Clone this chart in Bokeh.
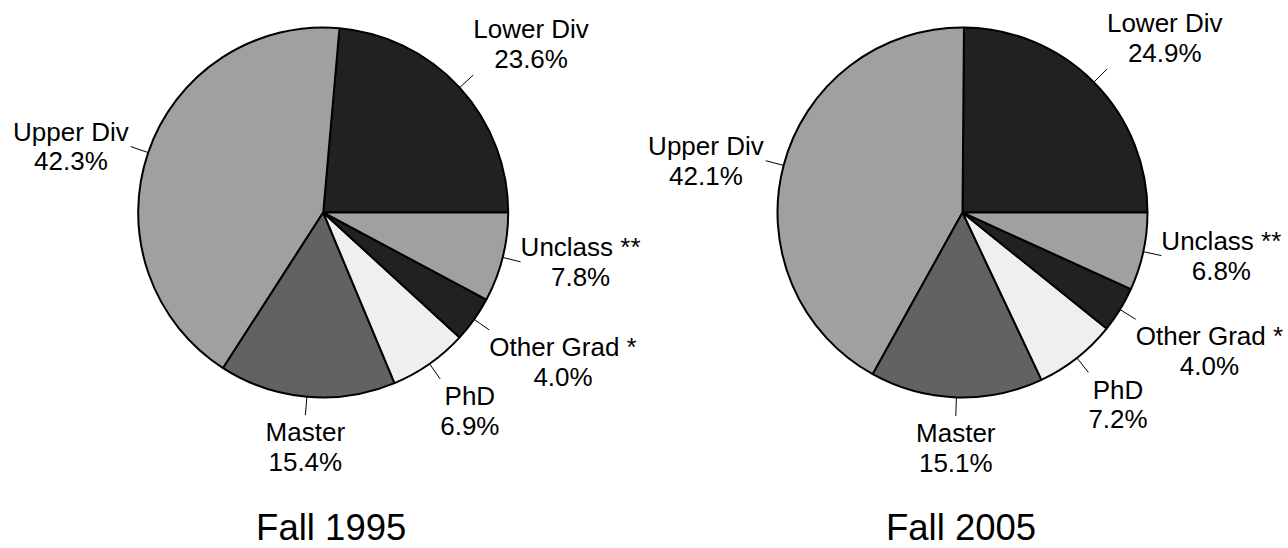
import math
from bokeh.plotting import figure
from bokeh.models import Range1d, ColumnDataSource
from bokeh.embed import file_html
from bokeh.resources import INLINE
from bokeh.core.properties import value

# ---- data ----
categories = ["Lower Div", "Upper Div", "Master", "PhD", "Other Grad *", "Unclass **"]
fall_1995 = [23.6, 42.3, 15.4, 6.9, 4.0, 7.8]
fall_2005 = [24.9, 42.1, 15.1, 7.2, 4.0, 6.8]
titles = ["Fall 1995", "Fall 2005"]
colors = ["#212121", "#a0a0a0", "#626262", "#efefef", "#212121", "#a0a0a0"]

# ---- layout (pixels) ----
W, H = 1288, 548
pie_centers_screen = [(322.7, 212.0), (962.0, 212.0)]
title_centers_x = [330.7, 960.5]
TITLE_BASELINE = 540.0
R = 185.0
FONT = "Liberation Sans"
FS = 26.0
LS = 29.4
CAP = 0.716 * FS
TITLE_FS = 36.5
BASE_FIX = 0.35  # empirical baseline correction (em)

# Arial / Liberation Sans advance widths (per 1000 em)
AW = {" ": 278, "*": 389, "%": 889, ".": 278, "D": 722, "G": 778, "L": 556,
      "M": 833, "O": 778, "P": 667, "U": 722, "a": 556, "c": 500, "d": 556,
      "e": 556, "h": 556, "i": 222, "l": 222, "n": 556, "o": 556, "p": 556,
      "r": 333, "s": 500, "t": 278, "v": 500, "w": 722}


def text_w(s, fs):
    return sum(AW.get(ch, 556) for ch in s) / 1000.0 * fs


p = figure(width=W, height=H, x_range=Range1d(0, W), y_range=Range1d(0, H),
           output_backend="svg", toolbar_location=None,
           x_axis_location=None, y_axis_location=None, min_border=0)
p.grid.visible = False
p.outline_line_color = None
p.background_fill_color = "white"
p.border_fill_color = "white"

for idx, vals in enumerate([fall_1995, fall_2005]):
    sx, sy = pie_centers_screen[idx]
    cx, cy = sx, H - sy
    total = sum(vals)
    starts, ends, mids = [], [], []
    acc = 0.0
    for v in vals:
        a0 = acc / total * 2 * math.pi
        acc += v
        a1 = acc / total * 2 * math.pi
        starts.append(a0)
        ends.append(a1)
        mids.append((a0 + a1) / 2)
    src = ColumnDataSource(dict(x=[cx] * len(vals), y=[cy] * len(vals),
                                start=starts, end=ends, color=colors))
    p.wedge(x="x", y="y", radius=R, start_angle="start", end_angle="end",
            direction="anticlock", fill_color="color", line_color="black",
            line_width=2, source=src)

    x0s, y0s, x1s, y1s = [], [], [], []
    lx, l1y, l2y, t1, t2 = [], [], [], [], []
    for cat, v, a in zip(categories, vals, mids):
        c, s = math.cos(a), math.sin(a)
        x0s.append(cx + R * c)
        y0s.append(cy + R * s)
        ax, ay = cx + 1.1 * R * c, cy + 1.1 * R * s
        x1s.append(ax)
        y1s.append(ay)
        pct = f"{v:.1f}%"
        w = max(text_w(cat, FS), text_w(pct, FS))
        if c > 0.2:
            xc = ax + w / 2
        elif c < -0.2:
            xc = ax - 2 - w / 2
        else:
            xc = ax
        if s > 0.5:
            b2 = ay + 7.3
        elif s < -0.5:
            b2 = ay - 7.7 - CAP - LS
        else:
            b2 = ay - (LS + CAP) / 2
        b2 += BASE_FIX * FS
        b1 = b2 + LS
        lx.append(xc)
        l1y.append(b1)
        l2y.append(b2)
        t1.append(cat)
        t2.append(pct)
    p.segment(x0=x0s, y0=y0s, x1=x1s, y1=y1s, line_color="black", line_width=1)
    p.text(x=lx, y=l1y, text=t1, text_align="center", text_baseline="alphabetic",
           text_font=value(FONT), text_font_size=f"{FS}px", text_color="black")
    p.text(x=lx, y=l2y, text=t2, text_align="center", text_baseline="alphabetic",
           text_font=value(FONT), text_font_size=f"{FS}px", text_color="black")

    p.text(x=[title_centers_x[idx]], y=[H - TITLE_BASELINE + BASE_FIX * TITLE_FS],
           text=[titles[idx]], text_align="center", text_baseline="alphabetic",
           text_font=value(FONT), text_font_size=f"{TITLE_FS}px", text_color="black")

open("out.html", "w").write(file_html(p, INLINE))
